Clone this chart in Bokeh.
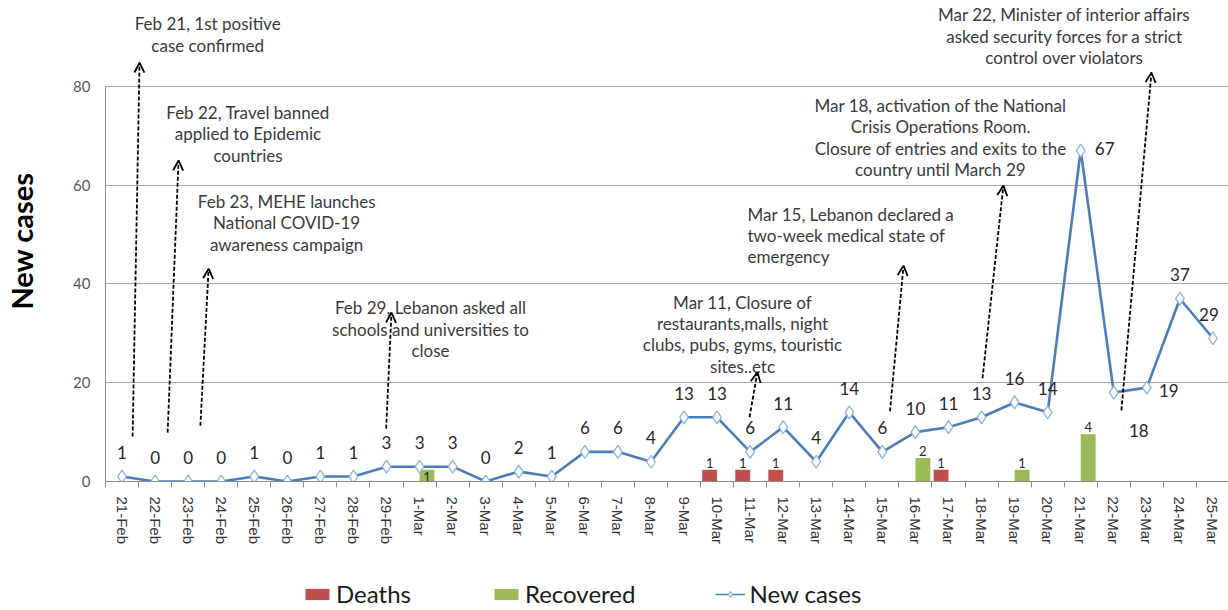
import math
from bokeh.plotting import figure
from bokeh.layouts import column
from bokeh.models import (ColumnDataSource, FixedTicker, Range1d, Arrow, OpenHead,
                          Legend, LegendItem)
from bokeh.transform import dodge
from bokeh.core.properties import value
from bokeh.embed import file_html
from bokeh.resources import INLINE

# ---------------- data ----------------
dates = ["21-Feb", "22-Feb", "23-Feb", "24-Feb", "25-Feb", "26-Feb", "27-Feb", "28-Feb", "29-Feb",
         "1-Mar", "2-Mar", "3-Mar", "4-Mar", "5-Mar", "6-Mar", "7-Mar", "8-Mar", "9-Mar", "10-Mar",
         "11-Mar", "12-Mar", "13-Mar", "14-Mar", "15-Mar", "16-Mar", "17-Mar", "18-Mar", "19-Mar",
         "20-Mar", "21-Mar", "22-Mar", "23-Mar", "24-Mar", "25-Mar"]
new_cases = [1, 0, 0, 0, 1, 0, 1, 1, 3,
             3, 3, 0, 2, 1, 6, 6, 4, 13, 13, 6, 11, 4, 14, 6, 10, 11, 13, 16, 14, 67, 18, 19, 37, 29]
deaths = [0, 0, 0, 0, 0, 0, 0, 0, 0,
          0, 0, 0, 0, 0, 0, 0, 0, 0, 1, 1, 1, 0, 0, 0, 0, 1, 0, 0, 0, 0, 0, 0, 0, 0]
recovered = [0, 0, 0, 0, 0, 0, 0, 0, 0,
             1, 0, 0, 0, 0, 0, 0, 0, 0, 0, 0, 0, 0, 0, 0, 2, 0, 0, 1, 0, 4, 0, 0, 0, 0]
y_ticks = [0, 20, 40, 60, 80]

# annotations (text block centre in data units, arrow from -> to in data units)
ann_text = [
    "Feb 21, 1st positive\ncase confirmed",
    "Feb 22, Travel banned\napplied to Epidemic\ncountries",
    "Feb 23, MEHE launches\nNational COVID-19\nawareness campaign",
    "Feb 29, Lebanon asked all\nschools and universities to\nclose",
    "Mar 11, Closure of\nrestaurants,malls, night\nclubs, pubs, gyms, touristic\nsites..etc",
    "Mar 15, Lebanon declared a\ntwo-week medical state of\nemergency",
    "Mar 18, activation of the National\nCrisis Operations Room.\nClosure of entries and exits to the\ncountry until March 29",
    "Mar 22, Minister of interior affairs\nasked security forces for a strict\ncontrol over violators",
]
ann_x = [2.59, 3.81, 4.98, 9.33, 18.77, 18.92, 24.76, 28.51]
ann_y = [90.5, 70.4, 52.4, 30.8, 29.8, 49.8, 69.6, 90.1]
ann_align = ["center", "center", "center", "center", "center", "left", "center", "center"]
arrow_x0 = [0.32, 1.38, 2.37, 7.99, 18.98, 23.23, 26.03, 30.23]
arrow_y0 = [9.1, 9.9, 11.3, 10.7, 13.0, 14.2, 20.9, 14.4]
arrow_x1 = [0.53, 1.71, 2.62, 8.15, 19.22, 23.64, 26.66, 31.14]
arrow_y1 = [84.8, 65.0, 43.1, 34.2, 22.1, 43.7, 59.9, 82.8]

# label offsets (screen px) for special data labels
label_default_offset = (0, -24)
label_special_offset = {"21-Mar": (24, -2), "22-Mar": (25, 38), "23-Mar": (22, 3),
                        "25-Mar": (-4, -24)}
bar_label_special_offset = {"1-Mar": 12}

# ---------------- figure ----------------
FONT = "Lato"
p = figure(width=1228, height=578, x_range=Range1d(-0.5, 33.47), y_range=Range1d(0, 97.37),
           output_backend="svg", toolbar_location=None,
           min_border_left=105, min_border_right=0, min_border_top=0, min_border_bottom=97)
p.outline_line_color = None
p.background_fill_color = "white"
p.extra_y_ranges = {"bars": Range1d(0, 40.8)}

idx = list(range(len(dates)))

# grid
p.xgrid.visible = False
p.ygrid.ticker = FixedTicker(ticks=y_ticks)
p.ygrid.grid_line_color = "#a6a6a6"
p.ygrid.grid_line_width = 1

# y axis
p.yaxis.ticker = FixedTicker(ticks=y_ticks)
p.yaxis.bounds = (0, 80)
p.yaxis.axis_line_color = "#8c8c8c"
p.yaxis.major_tick_line_color = None
p.yaxis.minor_tick_line_color = None
p.yaxis.major_label_text_font = FONT
p.yaxis.major_label_text_font_size = "15px"
p.yaxis.major_label_text_color = "#595959"
p.yaxis.major_label_standoff = 9
p.yaxis.axis_label = "New cases"
p.yaxis.axis_label_text_font = FONT
p.yaxis.axis_label_text_font_style = "bold"
p.yaxis.axis_label_text_font_size = "29px"
p.yaxis.axis_label_text_color = "black"
p.yaxis.axis_label_standoff = 31

# x axis
p.xaxis.ticker = FixedTicker(ticks=idx, minor_ticks=[i - 0.5 for i in range(len(dates) + 1)])
p.xaxis.major_label_overrides = {i: d for i, d in zip(idx, dates)}
p.xaxis.major_label_orientation = "vertical"
p.xaxis.major_tick_line_color = None
p.xaxis.minor_tick_line_color = "#8c8c8c"
p.xaxis.minor_tick_in = 0
p.xaxis.minor_tick_out = 6
p.xaxis.axis_line_color = "#8c8c8c"
p.xaxis.major_label_text_font = "Liberation Sans"
p.xaxis.major_label_text_font_size = "15px"
p.xaxis.major_label_text_color = "#333333"
p.xaxis.major_label_standoff = 9

# bars (secondary hidden scale)
bar_src = ColumnDataSource(dict(x=idx, deaths=deaths, recovered=recovered))
r_d = p.vbar(x=dodge("x", -0.225, range=p.x_range), top="deaths", width=0.45, source=bar_src,
             fill_color="#c0504d", line_color=None, y_range_name="bars")
r_r = p.vbar(x=dodge("x", 0.225, range=p.x_range), top="recovered", width=0.45, source=bar_src,
             fill_color="#9bbb59", line_color=None, y_range_name="bars")

# bar labels
bl_x, bl_y, bl_t, bl_off = [], [], [], []
for i, d in enumerate(dates):
    if deaths[i]:
        bl_x.append(i - 0.225); bl_y.append(deaths[i]); bl_t.append(str(deaths[i])); bl_off.append(-2)
    if recovered[i]:
        bl_x.append(i + 0.225); bl_y.append(recovered[i]); bl_t.append(str(recovered[i]))
        bl_off.append(bar_label_special_offset.get(d, -2))
p.text(x=bl_x, y=bl_y, text=bl_t, y_offset=bl_off, y_range_name="bars",
       text_align="center", text_baseline="bottom", text_font=value(FONT),
       text_font_size="13px", text_color="#262626")

# line
line_src = ColumnDataSource(dict(x=idx, y=new_cases))
r_line = p.line(x="x", y="y", source=line_src, line_color="#4a7ebb", line_width=2.6)
r_sc = p.scatter(x="x", y="y", source=line_src, marker="diamond", size=13,
                 line_color="#8db3e2", fill_color="white", line_width=1.3)

# line data labels
xo = [label_special_offset.get(d, label_default_offset)[0] for d in dates]
yo = [label_special_offset.get(d, label_default_offset)[1] for d in dates]
lab_src = ColumnDataSource(dict(x=idx, y=new_cases, t=[str(v) for v in new_cases], xo=xo, yo=yo))
p.text(x="x", y="y", text="t", x_offset="xo", y_offset="yo", source=lab_src,
       text_align="center", text_baseline="middle", text_font=value(FONT),
       text_font_size="17px", text_color="#262626")

# annotation arrows
arr_src = ColumnDataSource(dict(x0=arrow_x0, y0=arrow_y0, x1=arrow_x1, y1=arrow_y1))
p.add_layout(Arrow(end=OpenHead(size=10, line_width=1.8, line_color="black"),
                   x_start="x0", y_start="y0", x_end="x1", y_end="y1", source=arr_src,
                   line_color="black", line_width=1.8, line_dash="4 2"))

# annotation texts
for t, x, y, a in zip(ann_text, ann_x, ann_y, ann_align):
    p.text(x=[x], y=[y], text=[t], text_align=a, text_baseline="middle",
           text_font=value(FONT), text_font_size="17px", text_color="#3a3a3a",
           text_line_height=1.02)

# ---------------- legend strip ----------------
lg = figure(width=1228, height=30, x_range=Range1d(0, 1), y_range=Range1d(0, 1),
            output_backend="svg", toolbar_location=None,
            min_border_left=0, min_border_right=0, min_border_top=0, min_border_bottom=0)
lg.outline_line_color = None
lg.axis.visible = False
lg.grid.visible = False
nan = float("nan")
dummy = ColumnDataSource(dict(x=[nan], y=[nan]))
g_d = lg.vbar(x="x", top="y", width=0.1, source=dummy, fill_color="#c0504d", line_color=None)
g_r = lg.vbar(x="x", top="y", width=0.1, source=dummy, fill_color="#9bbb59", line_color=None)
g_l = lg.line(x="x", y="y", source=dummy, line_color="#4a7ebb", line_width=1.5)
g_s = lg.scatter(x="x", y="y", source=dummy, marker="diamond", size=10,
                 line_color="#8db3e2", fill_color="white", line_width=1.2)
legend = Legend(items=[LegendItem(label="Deaths", renderers=[g_d]),
                       LegendItem(label="Recovered", renderers=[g_r]),
                       LegendItem(label="New cases", renderers=[g_l, g_s])],
                orientation="horizontal", location=(197, 0),
                label_text_font=FONT, label_text_font_size="24px", label_text_color="#1a1a1a",
                glyph_width=30, glyph_height=14, spacing=80, label_standoff=4,
                border_line_color=None, background_fill_alpha=0, padding=0, margin=0)
lg.add_layout(legend, "center")

layout = column(p, lg, spacing=0)
open("out.html", "w").write(file_html(layout, INLINE))
